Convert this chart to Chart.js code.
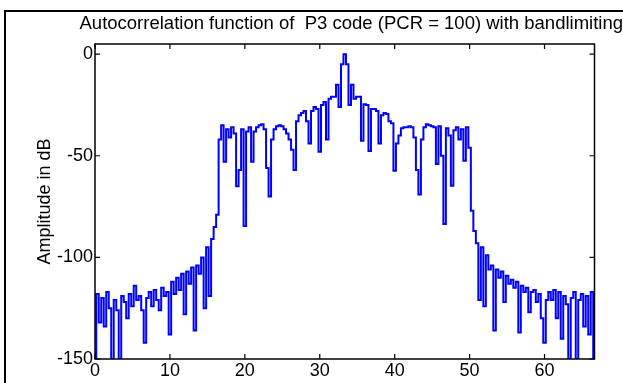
<!DOCTYPE html>
<html><head><meta charset="utf-8">
<style>html,body{margin:0;padding:0;background:#fff;overflow:hidden}#wrap{width:623px;height:383px;position:relative}</style>
<script src="https://cdn.jsdelivr.net/npm/chart.js@4.4.1/dist/chart.umd.min.js"></script>
</head><body><div id="wrap"><canvas id="c" width="623" height="383"></canvas></div>
<script>
const chartTitle = 'Autocorrelation function of  P3 code (PCR = 100) with bandlimiting';
const yAxisLabel = 'Amplitude in dB';
const lagStep = 1 / 3;            // spacing of the delay samples
const xTickValues = [0, 10, 20, 30, 40, 50, 60];
const yTickValues = [-150, -100, -50, 0];
const xRange = [0, 66.67];
const yRange = [-150, 5];

// autocorrelation magnitude (dB), delays 0 .. 33.33
const acfLeft = [
  -150, -118, -132, -120, -134, -117, -125, -150, -121, -126,
  -150, -119, -122, -130, -118, -124, -114, -121, -119, -126,
  -142, -120, -117, -124, -116, -121, -126, -115, -119, -117,
  -138, -112, -118, -110, -116, -108, -128, -107, -113, -105,
  -136, -104, -108, -100, -125, -95, -119, -91, -85, -79,
  -42, -35, -53, -37, -41, -36, -39, -65, -57, -37,
  -84.5, -38, -36, -53, -38, -36, -35, -34.5, -37, -56,
  -70, -42, -37, -35.5, -35, -35.5, -37, -39, -42, -47,
  -57, -33, -30, -29, -28, -33, -44, -28, -26, -27,
  -48, -25, -23.5, -42, -22, -21, -21, -15, -26, -5,
  0
];
// delays 33.67 .. 66.67
const acfRight = [
  -5, -25, -15, -22, -21, -21, -42.6, -24.6, -25, -47.6,
  -27, -27, -28, -44, -30, -29, -29.5, -33, -34, -57.4,
  -44, -40, -36.5, -36, -36, -35.5, -36, -41, -57, -69,
  -42, -36, -34.5, -35, -35.5, -36, -54, -35.5, -50, -83.6,
  -36.5, -40, -64.8, -37.5, -36, -42, -37, -52.5, -36, -46,
  -77, -87, -93, -121, -95, -124, -99, -106, -104, -136,
  -106, -110, -107, -122, -109, -113, -111, -115, -112, -137,
  -114, -117, -115, -127, -117, -116, -122, -118, -130, -142,
  -121, -117, -121, -116, -130, -117, -140, -119, -123, -150,
  -120, -117, -150, -121, -118, -134, -119, -138, -117, -150
];

const acf = acfLeft.concat(acfRight);
const points = acf.map((v, i) => ({ x: i * lagStep, y: v }));

const FONT = "'Liberation Sans', Arial, Helvetica, sans-serif";

const framePlugin = {
  id: 'frame',
  beforeDraw(chart) {
    const ctx = chart.ctx;
    ctx.save();
    ctx.fillStyle = '#fff';
    ctx.fillRect(0, 0, chart.width, chart.height);
    ctx.strokeStyle = '#000';
    ctx.lineWidth = 2;
    ctx.strokeRect(5, 11, 800, 600);
    ctx.restore();
  },
  afterDatasetsDraw(chart) {
    const { ctx, chartArea: a, scales } = chart;
    const x = scales.x, y = scales.y;
    ctx.save();
    ctx.strokeStyle = '#000';
    ctx.lineWidth = 1.5;
    ctx.strokeRect(a.left, a.top, a.right - a.left, a.bottom - a.top);
    ctx.lineWidth = 1.2;
    const L = 5;
    ctx.beginPath();
    xTickValues.forEach(v => {
      const px = x.getPixelForValue(v);
      ctx.moveTo(px, a.bottom); ctx.lineTo(px, a.bottom - L);
      ctx.moveTo(px, a.top); ctx.lineTo(px, a.top + L);
    });
    yTickValues.forEach(v => {
      const py = y.getPixelForValue(v);
      ctx.moveTo(a.left, py); ctx.lineTo(a.left + L, py);
      ctx.moveTo(a.right, py); ctx.lineTo(a.right - L, py);
    });
    ctx.stroke();
    ctx.restore();
  }
};

new Chart(document.getElementById('c'), {
  type: 'line',
  data: {
    datasets: [{
      data: points,
      borderColor: '#0000FF',
      borderWidth: 2,
      pointRadius: 0,
      stepped: 'middle',
      fill: false
    }]
  },
  options: {
    responsive: false,
    animation: false,
    events: [],
    layout: { padding: { left: 0, right: 0, top: 0, bottom: 0 } },
    plugins: {
      legend: { display: false },
      tooltip: { enabled: false },
      title: {
        display: true,
        text: chartTitle,
        fullSize: true,
        align: 'end',
        color: '#000',
        font: { family: FONT, size: 18.5, weight: 'normal' },
        padding: { top: 12.6, bottom: 9.2 }
      }
    },
    scales: {
      x: {
        type: 'linear',
        min: xRange[0], max: xRange[1],
        afterBuildTicks(s) { s.ticks = xTickValues.map(v => ({ value: v })); },
        afterFit(s) { s.height = 24; },
        grid: { display: false, drawTicks: false },
        border: { display: false },
        ticks: { color: '#000', font: { family: FONT, size: 18 }, padding: 1, maxRotation: 0, autoSkip: false }
      },
      y: {
        type: 'linear',
        position: 'left',
        min: yRange[0], max: yRange[1],
        afterBuildTicks(s) { s.ticks = yTickValues.map(v => ({ value: v })); },
        afterFit(s) { s.width = 95; },
        grid: { display: false, drawTicks: false },
        border: { display: false },
        ticks: { color: '#000', font: { family: FONT, size: 18 }, padding: 2 },
        title: {
          display: true, text: yAxisLabel, color: '#000',
          font: { family: FONT, size: 18 },
          padding: { top: 34, bottom: 0 }
        }
      },
      y2: {
        type: 'linear',
        position: 'right',
        min: yRange[0], max: yRange[1],
        afterFit(s) { s.width = 28.5; },
        grid: { display: false, drawTicks: false },
        border: { display: false },
        ticks: { display: false }
      }
    }
  },
  plugins: [framePlugin]
});
</script>
</body></html>
